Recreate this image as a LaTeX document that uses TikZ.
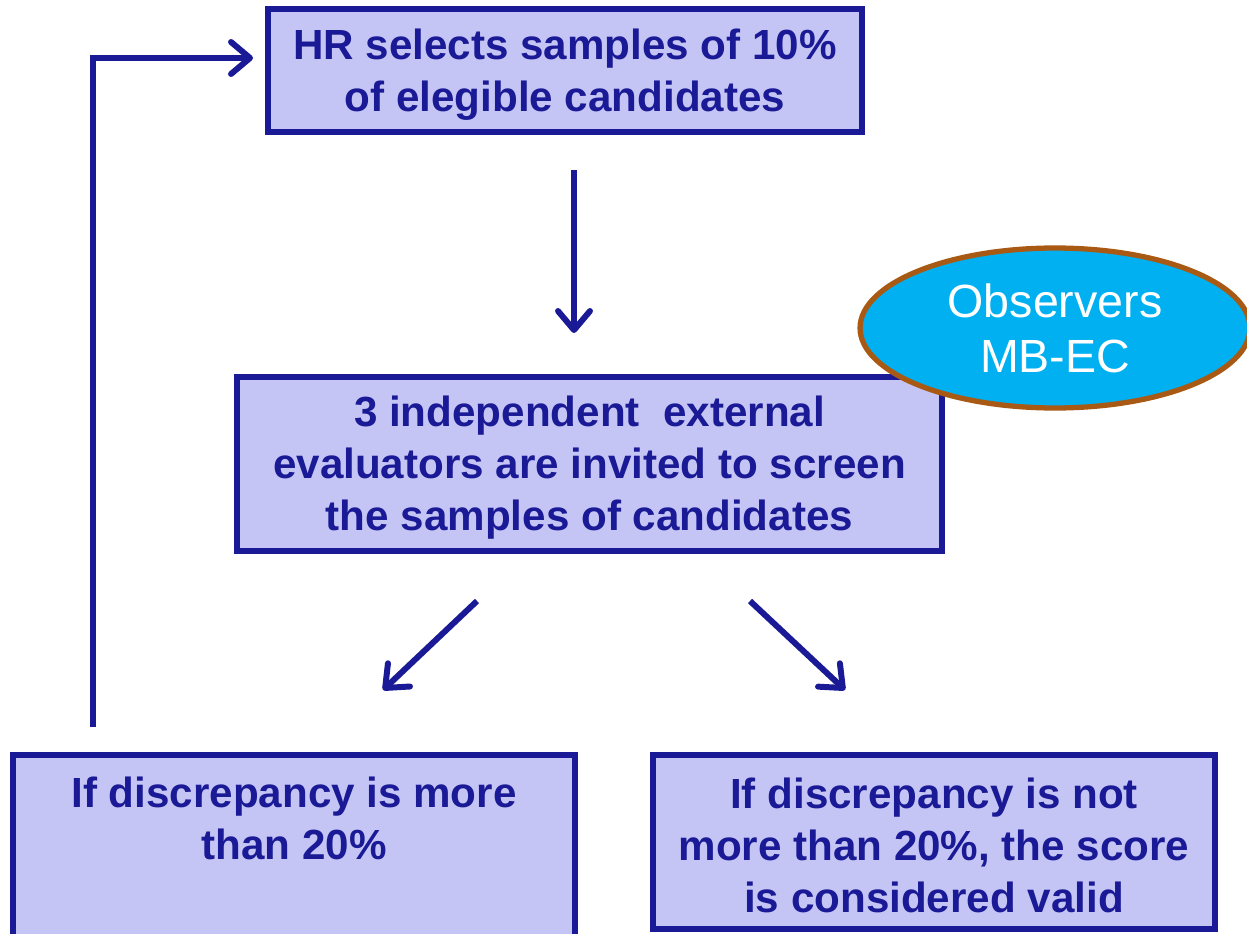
\documentclass[tikz,border=0pt]{standalone}
\usepackage{fontspec}
\setmainfont{Liberation Sans}
\usetikzlibrary{arrows.meta,shapes.geometric}
\definecolor{navy}{HTML}{1A1A96}
\definecolor{boxfill}{HTML}{C5C5F5}
\definecolor{obsfill}{HTML}{00B0F0}
\definecolor{obsline}{HTML}{A85A14}
\begin{document}
\begin{tikzpicture}[x=0.02cm,y=-0.02cm,
  box/.style={draw=navy, fill=boxfill, line width=3pt, inner sep=0pt},
  txt/.style={text=navy, font=\fontsize{24}{29.6}\selectfont\bfseries, align=center, inner sep=0pt},
  flow/.style={draw=navy, line width=3.4pt, -{Straight Barb[length=0.38cm,width=0.64cm,line cap=round,line join=round]}}]
\useasboundingbox (0,0) rectangle (1247,933);

% boxes
\node[box, minimum width=11.88cm, minimum height=2.46cm] (b1) at (565,70.5) {};
\node[txt] (t1) at (565,74.5) {HR selects samples of 10\%\\of elegible candidates};
\node[box, minimum width=14.1cm, minimum height=3.48cm] (b2) at (589.5,464) {};
\node[txt] (t2) at (589.5,467.5) {3 independent\ \ external\\evaluators are invited to screen\\the samples of candidates};
\node[box, minimum width=11.24cm, minimum height=4.1cm] (b3) at (294,857.5) {};
\node[txt] (t3) at (294,818) {If discrepancy is more\\than 20\%};
\node[box, minimum width=11.24cm, minimum height=3.48cm] (b4) at (934,842) {};
\node[txt] (t4) at (934,845) {If discrepancy is not\\more than 20\%, the score\\is considered valid};

% observers ellipse
\node[ellipse, draw=obsline, fill=obsfill, line width=3pt, minimum width=7.8cm, minimum height=3.2cm,
  text=white, align=center, font=\fontsize{26.5}{31.3}\selectfont, inner sep=0pt] (obs) at (1055,328)
  {Observers\\MB-EC};

% connectors
\coordinate (a1s) at (574,170);
\coordinate (a1e) at (574,333);
\draw[flow] (a1s) -- (a1e);
\coordinate (l1s) at (477,601);
\coordinate (l1e) at (383,690);
\draw[flow] (l1s) -- (l1e);
\coordinate (r1s) at (750,601);
\coordinate (r1e) at (845,690);
\draw[flow] (r1s) -- (r1e);
\coordinate (fb) at (93,727);
\coordinate (fbc) at (93,58);
\coordinate (fbe) at (253,58);
\draw[flow] (fb) -- (fbc) -- (fbe);
\end{tikzpicture}
\end{document}
